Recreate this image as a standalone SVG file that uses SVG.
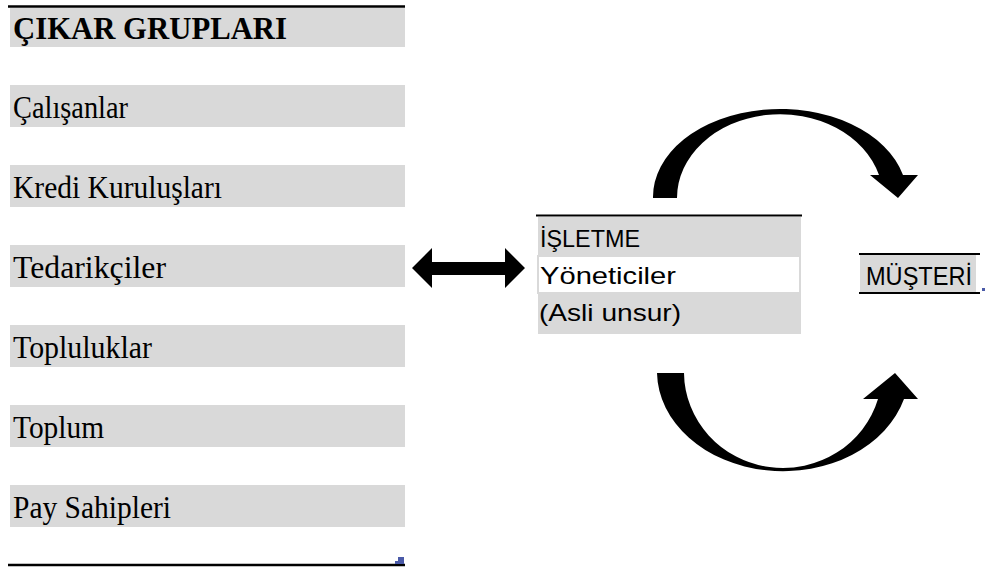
<svg xmlns="http://www.w3.org/2000/svg" width="985" height="567" viewBox="0 0 985 567">
<style>
.bg{fill:#d9d9d9}
.rule{stroke:#000;stroke-width:2.5}
.t{font-family:"Liberation Serif","Times New Roman",serif;font-size:31px;fill:#000}
.tb{font-family:"Liberation Serif","Times New Roman",serif;font-size:31px;font-weight:bold;fill:#000}
.s{font-family:"Liberation Sans",Arial,sans-serif;font-size:23px;fill:#000}
.arr{fill:#000}
.mark{fill:#4a5aa8}
</style>
<rect width="985" height="567" fill="#fff"/>
<g id="stakeholders">
  <line class="rule" x1="8" y1="6.5" x2="405" y2="6.5"/>
  <g id="header"><rect class="bg" x="10" y="8" width="395" height="39"/><text class="tb" x="13" y="39" textLength="274" lengthAdjust="spacingAndGlyphs">ÇIKAR GRUPLARI</text></g>
  <g id="calisanlar"><rect class="bg" x="10" y="85" width="395" height="42"/><text class="t" x="13" y="118" textLength="115" lengthAdjust="spacingAndGlyphs">Çalışanlar</text></g>
  <g id="kredi"><rect class="bg" x="10" y="165" width="395" height="42"/><text class="t" x="13" y="198" textLength="209" lengthAdjust="spacingAndGlyphs">Kredi Kuruluşları</text></g>
  <g id="tedarikciler"><rect class="bg" x="10" y="245" width="395" height="42"/><text class="t" x="13" y="278" textLength="153" lengthAdjust="spacingAndGlyphs">Tedarikçiler</text></g>
  <g id="topluluklar"><rect class="bg" x="10" y="325" width="395" height="42"/><text class="t" x="13" y="358" textLength="139" lengthAdjust="spacingAndGlyphs">Topluluklar</text></g>
  <g id="toplum"><rect class="bg" x="10" y="405" width="395" height="42"/><text class="t" x="13" y="438" textLength="91" lengthAdjust="spacingAndGlyphs">Toplum</text></g>
  <g id="pay-sahipleri"><rect class="bg" x="10" y="485" width="395" height="42"/><text class="t" x="13" y="518" textLength="158" lengthAdjust="spacingAndGlyphs">Pay Sahipleri</text></g>
  <line class="rule" x1="8" y1="565" x2="405" y2="565"/>
  <polygon class="mark" points="398,557 404,557 404,564 395,564 395,561 398,561"/>
</g>
<g id="isletme">
  <line x1="536" y1="215.5" x2="802" y2="215.5" stroke="#000" stroke-width="1.8"/>
  <rect class="bg" x="538" y="217" width="263" height="38"/>
  <rect x="538" y="256" width="262" height="37" fill="#fff" stroke="#d9d9d9" stroke-width="2"/>
  <rect class="bg" x="538" y="294" width="263" height="40"/>
  <text class="s" x="540" y="247" textLength="100" lengthAdjust="spacingAndGlyphs">İŞLETME</text>
  <text class="s" x="540" y="284" textLength="136" lengthAdjust="spacingAndGlyphs" style="font-size:24px">Yöneticiler</text>
  <text class="s" x="539" y="321" textLength="142" lengthAdjust="spacingAndGlyphs" style="font-size:24px">(Asli unsur)</text>
</g>
<g id="musteri">
  <rect class="bg" x="860" y="255" width="116" height="37"/>
  <line x1="859" y1="254" x2="980" y2="254" stroke="#000" stroke-width="2"/>
  <line x1="859" y1="293" x2="980" y2="293" stroke="#000" stroke-width="2"/>
  <text class="s" x="866" y="285" textLength="106" lengthAdjust="spacingAndGlyphs" style="font-size:25px">MÜŞTERİ</text>
  <rect class="mark" x="982" y="288" width="3" height="3"/>
</g>
<g id="connectors">
  <polygon class="arr" points="412,268 432,248 432,262 505,262 505,248 525,268 505,288 505,275 432,275 432,288"/>
  <path class="arr" d="M653,198 A127 88 0 0 1 903,175 L918,175 L898,198 L870,175 L879,175 A103 84 0 0 0 677,198 Z"/>
  <path class="arr" d="M657,373 A126 100 0 0 0 904,399 L918,399 L895,373 L863,399 L878,399 A99 96 0 0 1 684,373 Z"/>
</g>
</svg>
